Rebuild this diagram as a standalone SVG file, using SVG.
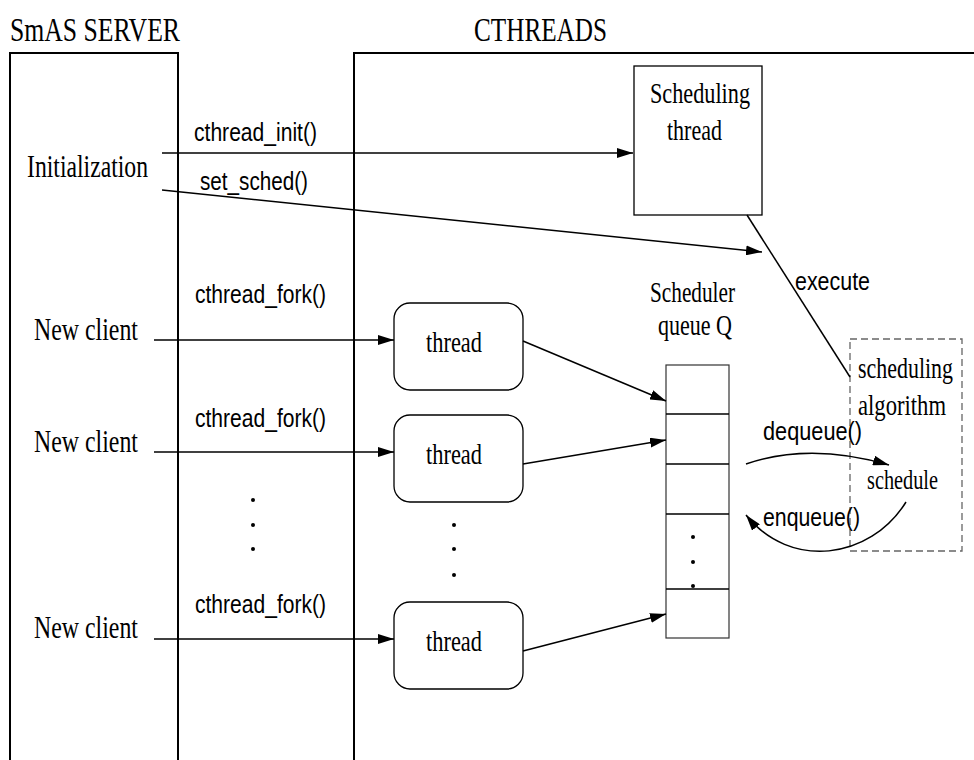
<svg xmlns="http://www.w3.org/2000/svg" width="974" height="760" viewBox="0 0 974 760">
<style>
.serif{font-family:"Liberation Serif","Times New Roman",serif;fill:#000}
.sans{font-family:"Liberation Sans",Arial,sans-serif;fill:#000}
.frame{fill:none;stroke:#000;stroke-width:2}
.box{fill:#fff;stroke:#000;stroke-width:1.3}
.conn{fill:none;stroke:#000;stroke-width:1.5}
.dot{fill:#000}
</style>
<defs>
<marker id="ah" viewBox="0 0 16 10" refX="16" refY="5" markerWidth="16" markerHeight="10" orient="auto" markerUnits="userSpaceOnUse"><path d="M0,0 L16,5 L0,10 z" fill="#000"/></marker>
</defs>
<rect width="974" height="760" fill="#fff"/>
<g id="smas-server">
<path class="frame" d="M10,765 V53 H178 V765"/>
<text class="serif" x="10" y="41" font-size="34" textLength="170" lengthAdjust="spacingAndGlyphs">SmAS SERVER</text>
<text class="serif" x="27" y="177" font-size="32" textLength="121" lengthAdjust="spacingAndGlyphs">Initialization</text>
<text class="serif" x="34" y="340" font-size="32" textLength="104" lengthAdjust="spacingAndGlyphs">New client</text>
<text class="serif" x="34" y="452" font-size="32" textLength="104" lengthAdjust="spacingAndGlyphs">New client</text>
<text class="serif" x="34" y="638" font-size="32" textLength="104" lengthAdjust="spacingAndGlyphs">New client</text>
<circle class="dot" cx="253" cy="500" r="2"/><circle class="dot" cx="253" cy="525" r="2"/><circle class="dot" cx="253" cy="549" r="2"/>
</g>
<g id="cthreads">
<path class="frame" d="M354,765 V53 H980"/>
<text class="serif" x="474" y="41" font-size="34" textLength="133" lengthAdjust="spacingAndGlyphs">CTHREADS</text>
</g>
<g id="scheduling-thread">
<rect class="box" x="634" y="66" width="128" height="149"/>
<text class="serif" x="650" y="103" font-size="30" textLength="100" lengthAdjust="spacingAndGlyphs">Scheduling</text>
<text class="serif" x="667" y="140" font-size="30" textLength="55" lengthAdjust="spacingAndGlyphs">thread</text>
</g>
<g id="thread1">
<rect class="box" x="394" y="303" width="129" height="87" rx="16"/>
<text class="serif" x="426" y="352" font-size="29" textLength="56" lengthAdjust="spacingAndGlyphs">thread</text>
</g>
<g id="thread2">
<rect class="box" x="394" y="415" width="129" height="87" rx="16"/>
<text class="serif" x="426" y="464" font-size="29" textLength="56" lengthAdjust="spacingAndGlyphs">thread</text>
</g>
<g id="thread3">
<rect class="box" x="394" y="602" width="129" height="87" rx="16"/>
<text class="serif" x="426" y="651" font-size="29" textLength="56" lengthAdjust="spacingAndGlyphs">thread</text>
</g>
<g id="thread-dots">
<circle class="dot" cx="454" cy="525" r="2"/><circle class="dot" cx="454" cy="549" r="2"/><circle class="dot" cx="454" cy="575" r="2"/>
</g>
<g id="scheduler-queue">
<text class="serif" x="650" y="302" font-size="30" textLength="85" lengthAdjust="spacingAndGlyphs">Scheduler</text>
<text class="serif" x="658" y="335" font-size="30" textLength="74" lengthAdjust="spacingAndGlyphs">queue Q</text>
<rect x="666" y="365" width="63" height="273" fill="#fff" stroke="#333" stroke-width="1.2"/>
<path d="M666,414 H729 M666,464 H729 M666,514 H729 M666,589 H729" stroke="#000" stroke-width="1.3" fill="none"/>
<circle class="dot" cx="693" cy="537" r="2"/><circle class="dot" cx="693" cy="562" r="2"/><circle class="dot" cx="693" cy="586" r="2"/>
</g>
<g id="scheduling-algorithm">
<rect x="850" y="339" width="112" height="212" fill="none" stroke="#666" stroke-width="1.3" stroke-dasharray="7,4"/>
<text class="serif" x="858" y="378" font-size="29" textLength="95" lengthAdjust="spacingAndGlyphs">scheduling</text>
<text class="serif" x="858" y="415" font-size="29" textLength="88" lengthAdjust="spacingAndGlyphs">algorithm</text>
<text class="serif" x="867" y="489" font-size="27" textLength="71" lengthAdjust="spacingAndGlyphs">schedule</text>
</g>
<g id="connectors">
<line class="conn" x1="162" y1="153" x2="633" y2="153" marker-end="url(#ah)"/>
<line class="conn" x1="162" y1="190" x2="762" y2="252" marker-end="url(#ah)"/>
<line class="conn" x1="747" y1="215" x2="850" y2="377"/>
<line class="conn" x1="154" y1="340" x2="394" y2="340" marker-end="url(#ah)"/>
<line class="conn" x1="154" y1="452" x2="394" y2="452" marker-end="url(#ah)"/>
<line class="conn" x1="154" y1="639" x2="394" y2="639" marker-end="url(#ah)"/>
<line class="conn" x1="523" y1="341" x2="666" y2="401" marker-end="url(#ah)"/>
<line class="conn" x1="523" y1="464" x2="666" y2="440" marker-end="url(#ah)"/>
<line class="conn" x1="523" y1="651" x2="666" y2="614" marker-end="url(#ah)"/>
<path class="conn" d="M746,464 Q810,442 889,465" marker-end="url(#ah)"/>
<path class="conn" d="M906,502 C870,560 790,570 746,515" marker-end="url(#ah)"/>
<text class="sans" x="194" y="141" font-size="25" textLength="123" lengthAdjust="spacingAndGlyphs">cthread_init()</text>
<text class="sans" x="200" y="190" font-size="25" textLength="108" lengthAdjust="spacingAndGlyphs">set_sched()</text>
<text class="sans" x="195" y="303" font-size="25" textLength="131" lengthAdjust="spacingAndGlyphs">cthread_fork()</text>
<text class="sans" x="195" y="427" font-size="25" textLength="131" lengthAdjust="spacingAndGlyphs">cthread_fork()</text>
<text class="sans" x="195" y="613" font-size="25" textLength="131" lengthAdjust="spacingAndGlyphs">cthread_fork()</text>
<text class="sans" x="795" y="290" font-size="25" textLength="75" lengthAdjust="spacingAndGlyphs">execute</text>
<text class="sans" x="763" y="440" font-size="25" textLength="99" lengthAdjust="spacingAndGlyphs">dequeue()</text>
<text class="sans" x="763" y="526" font-size="25" textLength="97" lengthAdjust="spacingAndGlyphs">enqueue()</text>
</g>
</svg>
